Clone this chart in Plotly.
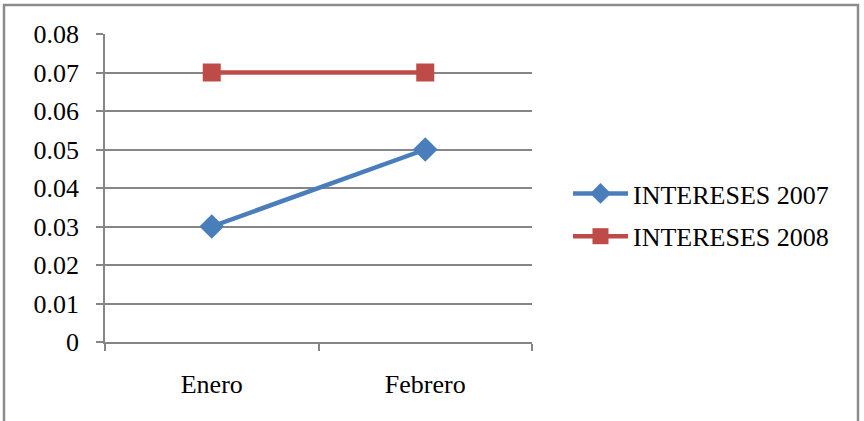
import plotly.graph_objects as go

categories = ["Enero", "Febrero"]
intereses_2007 = [0.03, 0.05]
intereses_2008 = [0.07, 0.07]
series_names = ["INTERESES 2007", "INTERESES 2008"]

FONT = "Liberation Serif"
FS = 26
GRID = "#868686"

fig = go.Figure()
fig.add_trace(go.Scatter(
    x=categories, y=intereses_2007, name=series_names[0], mode="lines+markers",
    line=dict(color="#4a7ebb", width=4.5),
    marker=dict(symbol="diamond", size=19, color="#4a7ebb"),
    legendgroup="a",
))
fig.add_trace(go.Scatter(
    x=categories, y=intereses_2008, name=series_names[1], mode="lines+markers",
    line=dict(color="#be4b48", width=4.5),
    marker=dict(symbol="square", size=18, color="#be4b48"),
    legendgroup="b",
))

L, R, T, B = 105, 864 - 532, 34, 421 - 342
pw, ph = 864 - L - R, 421 - T - B

fig.update_layout(
    width=864, height=421,
    margin=dict(l=L, r=R, t=T, b=B, pad=0),
    paper_bgcolor="white", plot_bgcolor="white",
    font=dict(family=FONT, size=FS, color="black"),
    showlegend=True,
    legend=dict(x=(568 - L) / pw, y=(342 - 215) / ph, xanchor="left", yanchor="middle",
                font=dict(size=FS, family=FONT), tracegroupgap=6, itemwidth=55,
                bgcolor="rgba(0,0,0,0)"),
    xaxis=dict(type="category", range=[-0.5, 1.5], tickson="boundaries",
               ticks="outside", ticklen=7, tickwidth=1.5, tickcolor=GRID,
               showline=True, linecolor=GRID, linewidth=1.5,
               showgrid=False, zeroline=False, ticklabelstandoff=18,
               tickfont=dict(size=FS, family=FONT)),
    yaxis=dict(range=[0, 0.08], dtick=0.01, tick0=0,
               ticks="outside", ticklen=7, tickwidth=1.5, tickcolor=GRID,
               showline=True, linecolor=GRID, linewidth=1.5,
               showgrid=True, gridcolor=GRID, gridwidth=1.5, zeroline=False,
               ticklabelstandoff=12,
               tickfont=dict(size=FS, family=FONT)),
)

# outer chart border
fig.add_shape(type="rect", xref="paper", yref="paper",
              x0=(4 - L) / pw, x1=(858 - L) / pw,
              y0=-(421 - 342 + 10) / ph, y1=1 + (T - 5) / ph,
              line=dict(color="#8c8c8c", width=2.5), layer="below")

fig.write_html("out.html", config={"displayModeBar": False},
               post_script="document.body.style.margin='0';document.body.style.padding='0';")
